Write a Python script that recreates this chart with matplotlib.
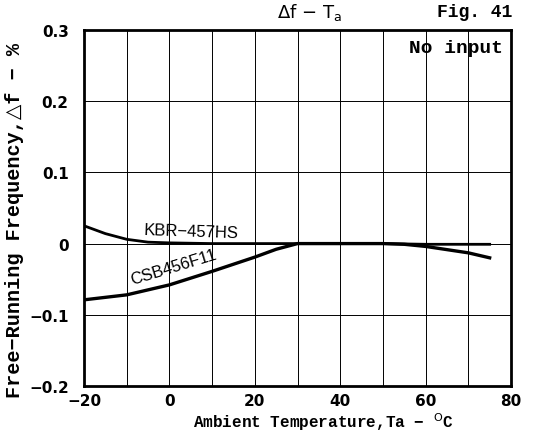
import numpy as np
import matplotlib.pyplot as plt

# --------- Données ---------
kbr_t = [-20, -15, -10, -5, 0, 10, 20, 30, 40, 50, 60, 75]
kbr_df = [0.025, 0.014, 0.006, 0.002, 0.001, 0.0, 0.0, 0.0, 0.0, 0.0, -0.001, -0.001]

csb_t = [-20, -10, 0, 10, 20, 25, 30, 40, 50, 55, 60, 70, 75]
csb_df = [-0.079, -0.072, -0.058, -0.039, -0.019, -0.008, 0.0, 0.0, 0.0, -0.001, -0.004, -0.013, -0.020]

x_ticks = [-20, 0, 20, 40, 60, 80]
y_ticks = [-0.2, -0.1, 0, 0.1, 0.2, 0.3]
y_labels = ["\u22120.2", "\u22120.1", "0", "0.1", "0.2", "0.3"]
x_labels = ["\u221220", "0", "20", "40", "60", "80"]

MONO = ["Liberation Mono", "DejaVu Sans"]

fig = plt.figure(figsize=(5.4, 4.39), dpi=100)
ax = fig.add_axes([0.1556, 0.1185, 0.7907, 0.8109])

ax.set_xlim(-20, 80)
ax.set_ylim(-0.2, 0.3)

# grille 10 °C / 0.1 %
for xv in np.arange(-10, 80, 10):
    ax.axvline(xv, color="black", lw=0.7, zorder=1)
for yv in np.arange(-0.1, 0.3, 0.1):
    ax.axhline(yv, color="black", lw=0.7, zorder=1)

ax.plot(kbr_t, kbr_df, color="black", lw=2.0, zorder=3)
ax.plot(csb_t, csb_df, color="black", lw=2.4, zorder=3)

ax.text(5, 0.017, "KBR\u2212457HS", fontsize=12, family="Liberation Sans",
        ha="center", va="center", rotation=-2)
ax.text(1, -0.033, "CSB456F11", fontsize=12, family="Liberation Sans",
        ha="center", va="center", rotation=17)

for s in ax.spines.values():
    s.set_linewidth(2.0)

ax.set_xticks(x_ticks)
ax.set_xticklabels(x_labels)
ax.set_yticks(y_ticks)
ax.set_yticklabels(y_labels)
ax.tick_params(axis="y", length=0, pad=11, labelsize=11)
ax.tick_params(axis="x", length=0, pad=5, labelsize=11)
for lab in ax.get_xticklabels() + ax.get_yticklabels():
    lab.set_fontweight("bold")

ax.set_xlabel("Ambient Temperature,Ta \u2212 $^{\\mathrm{O}}$C", family=MONO,
              fontweight="bold", fontsize=11.5)
ax.xaxis.set_label_coords(0.56, -0.068)
ax.set_ylabel("Free\u2212Running Frequency,\u25b3f \u2212 %", family=MONO,
              fontweight="bold", fontsize=14.5)
ax.yaxis.set_label_coords(-0.14, 0.469)

fig.text(0.574, 0.972, "\u0394f \u2212 T$_{\\mathrm{a}}$", fontsize=13,
         ha="center", va="center")
fig.text(0.948, 0.972, "Fig. 41", family=MONO, fontweight="bold",
         fontsize=13, ha="right", va="center")
ax.text(0.981, 0.975, "No input", transform=ax.transAxes, family=MONO,
        fontweight="bold", fontsize=14, ha="right", va="top")

fig.savefig("out.png", dpi=100)
